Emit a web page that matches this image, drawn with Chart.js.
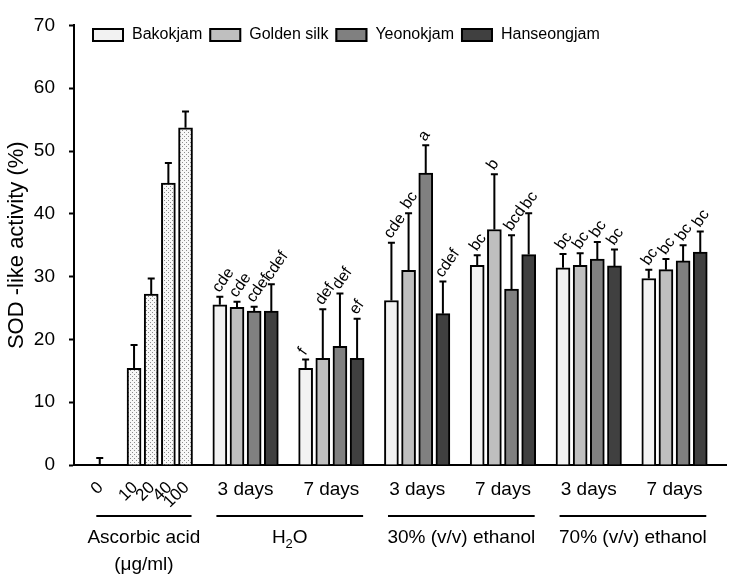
<!DOCTYPE html>
<html>
<head>
<meta charset="utf-8">
<script src="https://cdn.jsdelivr.net/npm/chart.js@4"></script>
<style>
  html, body { margin: 0; padding: 0; background: #fff; }
  canvas { display: block; }
</style>
</head>
<body>
<canvas id="chart" width="746" height="584"></canvas>
<script>
const FONT = '"Liberation Sans", Arial, sans-serif';

// Ascorbic acid standard (ug/ml)
const doseLabels = ['0', '10', '20', '40', '100'];
const ascorbicMean = [0, 15.4, 27.2, 44.9, 53.7];
const ascorbicSD = [1.1, 3.7, 2.5, 3.2, 2.6];

// Extract groups, in order: H2O 3d, H2O 7d, 30% 3d, 30% 7d, 70% 3d, 70% 7d
const periods = ['3 days', '7 days'];
const solvents = ['H2O', '30% (v/v) ethanol', '70% (v/v) ethanol'];
const varieties = ['Bakokjam', 'Golden silk', 'Yeonokjam', 'Hanseongjam'];
const varietyColors = ['#f2f2f2', '#bfbfbf', '#808080', '#404040'];

const bakokjamMean = [25.5, 15.4, 26.2, 31.8, 31.4, 29.7];
const goldenSilkMean = [25.1, 17.0, 31.0, 37.5, 31.8, 31.1];
const yeonokjamMean = [24.5, 18.9, 46.5, 28.0, 32.8, 32.5];
const hanseongjamMean = [24.5, 17.0, 24.1, 33.5, 31.7, 33.9];

const bakokjamSD = [1.3, 1.4, 9.2, 1.6, 2.2, 1.4];
const goldenSilkSD = [0.9, 7.8, 9.1, 8.8, 1.9, 1.7];
const yeonokjamSD = [0.7, 8.4, 4.4, 8.6, 2.7, 2.5];
const hanseongjamSD = [4.3, 6.3, 5.1, 6.6, 2.6, 3.3];

const bakokjamLetters = ['cde', 'f', 'cde', 'bc', 'bc', 'bc'];
const goldenSilkLetters = ['cde', 'def', 'bc', 'b', 'bc', 'bc'];
const yeonokjamLetters = ['cdef', 'def', 'a', 'bcd', 'bc', 'bc'];
const hanseongjamLetters = ['cdef', 'ef', 'cdef', 'bc', 'bc', 'bc'];

const meanSets = [bakokjamMean, goldenSilkMean, yeonokjamMean, hanseongjamMean];
const sdSets = [bakokjamSD, goldenSilkSD, yeonokjamSD, hanseongjamSD];
const letterSets = [bakokjamLetters, goldenSilkLetters, yeonokjamLetters, hanseongjamLetters];

// x axis is measured in bar slots
const firstGroupSlot = 8;
const groupStride = 5;
function slotOf(group, v) {
    return firstGroupSlot + group * groupStride + v;
}
const doseSlots = doseLabels.map((d, i) => i === 0 ? 1 : i + 2);

function dotPattern() {
    const c = document.createElement('canvas');
    c.width = 4;
    c.height = 4;
    const p = c.getContext('2d');
    p.fillStyle = '#f8f8f8';
    p.fillRect(0, 0, 4, 4);
    p.fillStyle = '#8c8c8c';
    p.fillRect(0, 0, 1, 1);
    p.fillRect(2, 2, 1, 1);
    return p.createPattern(c, 'repeat');
}

const datasets = [{
    label: 'Ascorbic acid',
    data: ascorbicMean.map((y, i) => ({ x: doseSlots[i], y })),
    sd: ascorbicSD,
    letters: [],
    backgroundColor: dotPattern(),
    borderColor: '#000',
    borderWidth: 2
}];
varieties.forEach((name, v) => {
    datasets.push({
        label: name,
        data: meanSets[v].map((y, g) => ({ x: slotOf(g, v), y })),
        sd: sdSets[v],
        letters: letterSets[v],
        backgroundColor: varietyColors[v],
        borderColor: '#000',
        borderWidth: 2
    });
});

// error bars and significance letters
const errorBars = {
    id: 'errorBars',
    afterDatasetsDraw(chart) {
        const ctx = chart.ctx;
        const y = chart.scales.y;
        ctx.save();
        chart.data.datasets.forEach((ds, di) => {
            chart.getDatasetMeta(di).data.forEach((bar, i) => {
                const mean = ds.data[i].y;
                const top = y.getPixelForValue(mean + ds.sd[i]);
                const base = y.getPixelForValue(mean);
                ctx.strokeStyle = '#000';
                ctx.lineWidth = 2;
                ctx.beginPath();
                ctx.moveTo(bar.x, base);
                ctx.lineTo(bar.x, top);
                ctx.moveTo(bar.x - 3.5, top);
                ctx.lineTo(bar.x + 3.5, top);
                ctx.stroke();
                const letter = ds.letters[i];
                if (letter) {
                    ctx.save();
                    ctx.translate(bar.x - 4, top - 6);
                    ctx.rotate(-55 * Math.PI / 180);
                    ctx.font = '16px ' + FONT;
                    ctx.textAlign = 'left';
                    ctx.textBaseline = 'middle';
                    ctx.fillStyle = '#000';
                    ctx.fillText(letter, 0, 0);
                    ctx.restore();
                }
            });
        });
        ctx.restore();
    }
};

// category labels under the axis and the legend inside the plot
const labelsAndLegend = {
    id: 'labelsAndLegend',
    afterDraw(chart) {
        const ctx = chart.ctx;
        const x = chart.scales.x;
        ctx.save();
        ctx.fillStyle = '#000';
        ctx.strokeStyle = '#000';

        // dose labels
        ctx.font = '17px ' + FONT;
        doseLabels.forEach((lab, i) => {
            ctx.save();
            ctx.translate(x.getPixelForValue(doseSlots[i]) + 1, 485);
            ctx.rotate(-Math.PI / 4);
            ctx.textAlign = 'right';
            ctx.textBaseline = 'middle';
            ctx.fillText(lab, 0, 0);
            ctx.restore();
        });

        // period labels
        ctx.font = '19px ' + FONT;
        ctx.textAlign = 'center';
        ctx.textBaseline = 'middle';
        for (let g = 0; g < solvents.length * periods.length; g++) {
            const mid = x.getPixelForValue(slotOf(g, 1.5));
            ctx.fillText(periods[g % 2], mid, 490);
        }

        // group underlines and names
        const spans = [[doseSlots[0], doseSlots[doseSlots.length - 1]]];
        solvents.forEach((s, k) => spans.push([slotOf(2 * k, 0), slotOf(2 * k + 1, 3)]));
        ctx.lineWidth = 2;
        spans.forEach(([a, b], k) => {
            const x0 = x.getPixelForValue(a - 0.2);
            const x1 = x.getPixelForValue(b + 0.35);
            ctx.beginPath();
            ctx.moveTo(x0, 516);
            ctx.lineTo(x1, 516);
            ctx.stroke();
            const mid = (x0 + x1) / 2;
            if (k === 0) {
                ctx.fillText('Ascorbic acid', mid, 538);
                ctx.fillText('(\u03bcg/ml)', mid, 565);
            } else if (k === 1) {
                // H2O with subscript
                const wH = ctx.measureText('H').width;
                const wO = ctx.measureText('O').width;
                ctx.font = '13px ' + FONT;
                const w2 = ctx.measureText('2').width;
                const start = mid - (wH + w2 + wO) / 2;
                ctx.textAlign = 'left';
                ctx.fillText('2', start + wH, 544);
                ctx.font = '19px ' + FONT;
                ctx.fillText('H', start, 538);
                ctx.fillText('O', start + wH + w2, 538);
                ctx.textAlign = 'center';
            } else {
                ctx.fillText(solvents[k - 1], mid, 538);
            }
        });

        // legend
        ctx.font = '16px ' + FONT;
        ctx.textAlign = 'left';
        let lx = 92;
        varieties.forEach((name, v) => {
            ctx.fillStyle = varietyColors[v];
            ctx.fillRect(lx, 28, 32, 14);
            ctx.lineWidth = 2;
            ctx.strokeRect(lx + 1, 29, 30, 12);
            ctx.fillStyle = '#000';
            ctx.fillText(name, lx + 40, 35);
            lx += 40 + ctx.measureText(name).width + 7;
        });
        ctx.restore();
    }
};

new Chart(document.getElementById('chart'), {
    type: 'bar',
    data: { datasets },
    options: {
        responsive: false,
        animation: false,
        layout: { padding: { top: 15, right: 20, bottom: 119, left: 0 } },
        datasets: {
            bar: { barThickness: 14, grouped: false }
        },
        scales: {
            x: {
                type: 'linear',
                offset: false,
                min: -0.5,
                max: 37.5,
                ticks: { display: false },
                grid: { display: false, drawTicks: false },
                border: { color: '#000', width: 2 },
                afterFit(scale) { scale.height = 0; }
            },
            y: {
                min: 0,
                max: 70,
                ticks: {
                    stepSize: 10,
                    color: '#000',
                    padding: 14,
                    font: { family: FONT, size: 19 }
                },
                grid: {
                    drawOnChartArea: false,
                    tickLength: 5,
                    tickWidth: 2,
                    tickColor: '#000'
                },
                border: { color: '#000', width: 2 },
                title: {
                    display: true,
                    text: 'SOD -like activity (%)',
                    color: '#000',
                    font: { family: FONT, size: 22 },
                    padding: { top: 4, bottom: 0 }
                },
                afterFit(scale) { scale.width = 74; }
            }
        },
        plugins: {
            legend: { display: false },
            tooltip: { enabled: false }
        }
    },
    plugins: [errorBars, labelsAndLegend]
});
</script>
</body>
</html>
